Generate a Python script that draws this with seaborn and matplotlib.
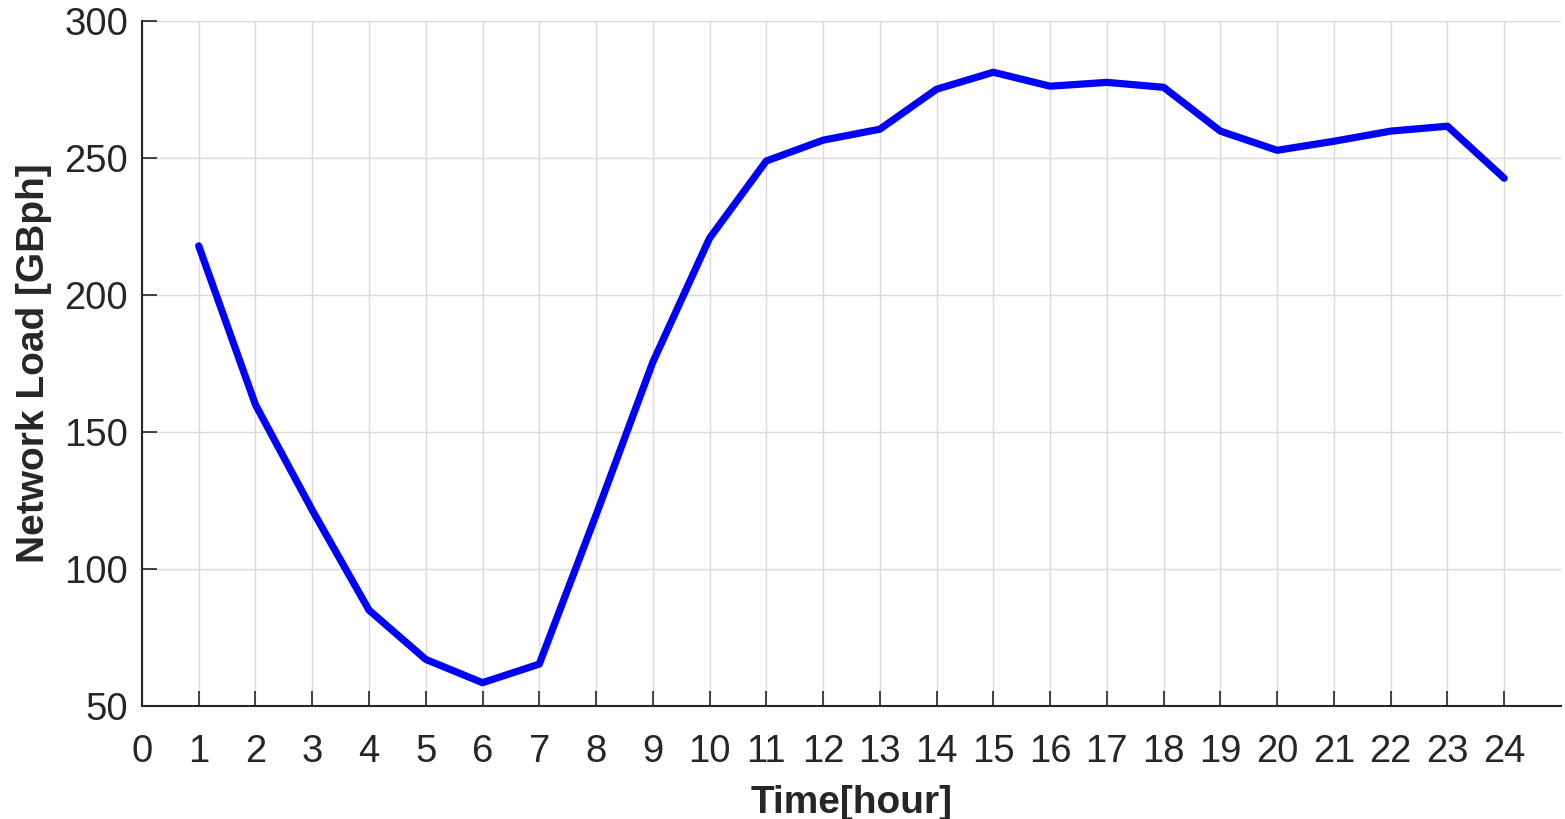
import matplotlib
matplotlib.use("Agg")
import matplotlib.pyplot as plt
import seaborn as sns
import pandas as pd

hours = list(range(1, 25))
load = [218, 160, 121.5, 85, 67, 58.5, 65.3, 119.7, 175.5, 220.8, 249, 256.6,
        260.6, 275.2, 281.4, 276.3, 277.7, 275.9, 259.9, 252.9, 256.2, 259.9, 261.7, 242.7]
x_ticks = list(range(0, 25))
y_ticks = [50, 100, 150, 200, 250, 300]

df = pd.DataFrame({"hour": hours, "load": load})

sns.set_theme(style="white")
plt.rcParams['font.family'] = ['Liberation Sans', 'DejaVu Sans']

fig = plt.figure(figsize=(15.65, 8.19), dpi=100)
ax = fig.add_axes([0.0907, 0.138, 0.9067, 0.836])

sns.lineplot(data=df, x="hour", y="load", ax=ax, color="#0000ff", linewidth=5.2)

ax.set_xlim(0, 25)
ax.set_ylim(50, 300)
ax.set_xticks(x_ticks)
ax.set_yticks(y_ticks)
ax.grid(True, color="#d9d9d9", linewidth=1.0)
ax.set_axisbelow(True)

for side in ["top", "right"]:
    ax.spines[side].set_visible(False)
for side in ["left", "bottom"]:
    ax.spines[side].set_color("#262626")
    ax.spines[side].set_linewidth(1.5)

ax.tick_params(axis="both", direction="in", length=11, width=1.2, color="#262626",
               labelsize=27.5, labelcolor="#262626", left=True, bottom=True)
ax.tick_params(axis="x", pad=20)
ax.tick_params(axis="y", pad=10)

ax.set_xlabel("Time[hour]", fontsize=28, fontweight="bold", color="#262626", labelpad=11)
ax.set_ylabel("Network Load [GBph]", fontsize=28, fontweight="bold", color="#262626", labelpad=9)

fig.savefig("out.png", dpi=100)
